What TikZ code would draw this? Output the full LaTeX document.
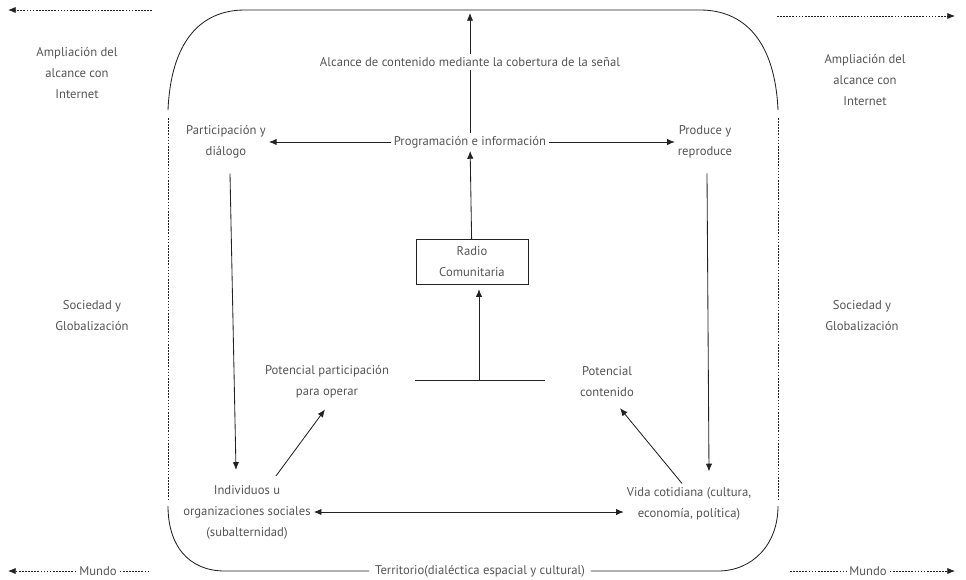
\documentclass[tikz,border=0pt]{standalone}
\usepackage{fontspec}
\setmainfont{PT Sans}
\usetikzlibrary{positioning, arrows.meta}
\definecolor{txtgray}{HTML}{555555}
\definecolor{linegray}{HTML}{222222}
\tikzset{
x=0.025cm, y=-0.025cm, % one unit is one pixel of the reference
>={Latex[length=5.5pt,width=4.5pt]}, % small filled arrow heads
every node/.style={font=\fontsize{9pt}{15pt}\selectfont, text=txtgray},
txt/.style={align=center, inner sep=2pt},
box/.style={draw=linegray, semithick, align=center, minimum width=2.8cm, minimum height=1.125cm},
link/.style={linegray, semithick},
dotline/.style={linegray, dash pattern=on 1.2pt off 1pt, semithick},
}
\begin{document}
\begin{tikzpicture}
        \useasboundingbox (0,0) rectangle (966,579);

        % frame of the territory
        \node[txt, fill=white, inner sep=4pt] (territorio) at (480,571) {Territorio(dialéctica espacial y cultural)};
        \coordinate (frTL) at (168,110);
        \coordinate (frTR) at (778,110);
        \coordinate (frBL) at (168,506);
        \coordinate (frBR) at (778,506);
        \draw[link] (frTL) .. controls (171,42) and (200,10) .. (245,10) -- (700,10) .. controls (745,10) and (775,42) .. (frTR);
        \draw[link] (frBL) .. controls (168,545) and (188,571) .. (225,571) -- (territorio.west);
        \draw[link] (territorio.east) -- (718,571) .. controls (752,571) and (778,545) .. (frBR);
        \draw[dotline] (168,118) -- (168,500);
        \draw[dotline] (778,118) -- (778,500);

        % nodes
        \node[txt] (alcance) at (470,62) {Alcance de contenido mediante la cobertura de la señal};
        \node[txt] (prog) at (470,142) {Programación e información};
        \node[txt] (partic) at (226,142) {Participación y\\diálogo};
        \node[txt] (produce) at (705,142) {Produce y\\reproduce};
        \node[box] (radio) at (472,262) {Radio\\Comunitaria};
        \node[txt] (potpart) at (327,382) {Potencial participación\\para operar};
        \node[txt] (potcont) at (607,382) {Potencial\\contenido};
        \node[txt] (indiv) at (247,512) {Individuos u\\organizaciones sociales\\(subalternidad)};
        \node[txt] (vida) at (689,504) {Vida cotidiana (cultura,\\economía, política)};

        % outside labels
        \node[txt] (ampL) at (77,73) {Ampliación del\\alcance con\\Internet};
        \node[txt] (ampR) at (865,80) {Ampliación del\\alcance con\\Internet};
        \node[txt] (socL) at (92,316) {Sociedad y\\Globalización};
        \node[txt] (socR) at (862,316) {Sociedad y\\Globalización};
        \node[txt] (mundoL) at (98,571) {Mundo};
        \node[txt] (mundoR) at (868,571) {Mundo};

        % dotted arrows to the world
        \coordinate (inTL) at (152,10);
        \coordinate (outTL) at (8,10);
        \coordinate (inTR) at (777,16);
        \coordinate (outTR) at (955,16);
        \coordinate (outBL) at (8,571);
        \coordinate (inBL) at (150,571);
        \coordinate (inBR) at (790,571);
        \coordinate (outBR) at (955,571);
        \draw[dotline, ->] (inTL) -- (outTL);
        \draw[dotline, ->] (inTR) -- (outTR);
        \draw[dotline, ->] (mundoL.west) -- (outBL);
        \draw[dotline] (mundoL.east) -- (inBL);
        \draw[dotline] (inBR) -- (mundoR.west);
        \draw[dotline, ->] (mundoR.east) -- (outBR);

        % connectors
        \coordinate (techo) at (470,13);
        \draw[link] (prog) -- (alcance);
        \draw[link, ->] (alcance) -- (techo);
        \draw[link, ->] (prog) -- (partic.east |- prog);
        \draw[link, ->] (prog) -- (produce.west |- prog);
        \draw[link, ->] (radio) -- (prog);
        \coordinate (baseL) at (415,380);
        \coordinate (baseR) at (545,380);
        \coordinate (baseM) at (479,380);
        \draw[link] (baseL) -- (baseR);
        \draw[link, ->] (baseM) -- ([yshift=-3pt]baseM |- radio.south);
        \draw[link, ->] ([shift={(4,12)}]partic.south) -- ([shift={(-11,-12)}]indiv.north);
        \draw[link, ->] ([shift={(2,12)}]produce.south) -- ([shift={(20,-13)}]vida.north);
        \draw[link, ->] ([shift={(29,-6)}]indiv.north) -- ([shift={(-2,8)}]potpart.south);
        \draw[link, ->] ([shift={(-7,-1)}]vida.north) -- ([shift={(13,8)}]potcont.south);
        \draw[link, <->] (indiv.east) -- (indiv.east -| vida.west);
    \end{tikzpicture}
\end{document}
